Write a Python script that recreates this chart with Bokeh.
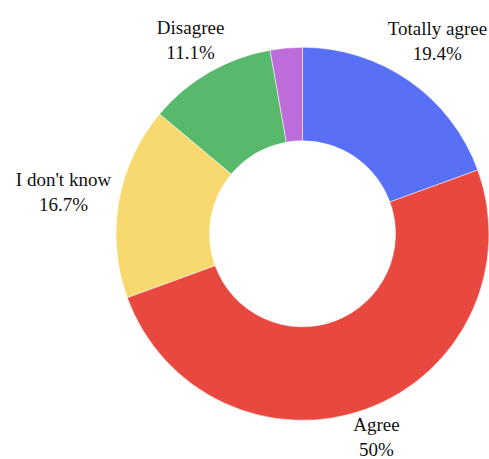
import math
from bokeh.plotting import figure
from bokeh.models import Range1d, ColumnDataSource
from bokeh.core.properties import value
from bokeh.embed import file_html
from bokeh.resources import INLINE

# ---- data ----
categories = ["Totally agree", "Agree", "I don't know", "Disagree", "Strongly disagree"]
counts = [7, 18, 6, 4, 1]
colors = ["#5770F5", "#E9483F", "#F8D96F", "#58B96C", "#BD6DDA"]

total = sum(counts)
shares = [c / total for c in counts]

# ---- layout (pixel-like data units, centre of donut at 0,0) ----
W, H = 489, 459
cx_screen, cy_screen = 302, 233.3   # donut centre inside the figure frame
R_OUT, R_IN = 186.5, 93.0
FS = 19
PAD = 6.5

p = figure(width=W, height=H, output_backend="svg", toolbar_location=None,
           x_range=Range1d(-cx_screen, W - cx_screen),
           y_range=Range1d(-(H - cy_screen), cy_screen),
           min_border=0)
p.axis.visible = False
p.grid.visible = False
p.outline_line_color = None
p.background_fill_color = "white"

starts, ends, mids = [], [], []
cum = 0.0
for s in shares:
    starts.append(math.pi / 2 - 2 * math.pi * cum)
    mids.append(2 * math.pi * (cum + s / 2))
    cum += s
    ends.append(math.pi / 2 - 2 * math.pi * cum)

src = ColumnDataSource(dict(cat=categories, start=starts, end=ends, color=colors))
p.annular_wedge(x=0, y=0, inner_radius=R_IN, outer_radius=R_OUT,
                start_angle="start", end_angle="end", direction="clock",
                fill_color="color", line_color="white", line_width=0.5, source=src)

# approximate Times-like glyph widths (per 1000 em)
CW = {" ": 250, "'": 180, "%": 833, ".": 250, "A": 722, "D": 722, "I": 333, "T": 611,
      "S": 556, "a": 444, "d": 500, "e": 444, "g": 500, "i": 278, "k": 500, "l": 278,
      "n": 500, "o": 500, "r": 333, "s": 389, "t": 278, "w": 722, "y": 500}


def text_w(t):
    return sum(CW.get(ch, 500) for ch in t) * FS / 1000.0


def pct(s):
    v = round(s * 100, 1)
    return f"{int(v)}%" if v == int(v) else f"{v}%"


lx, ly, lt = [], [], []
for cat, s, m in zip(categories, shares, mids):
    if s < 0.05:
        continue  # too small, label hidden as in the original
    txt = f"{cat}\n{pct(s)}"
    w = max(text_w(line) for line in txt.split("\n"))
    h = 2 * FS * 0.85
    ux, uy = math.sin(m), math.cos(m)
    d = R_OUT + PAD + abs(ux) * w / 2 + abs(uy) * h / 2
    lx.append(ux * d)
    ly.append(uy * d)
    lt.append(txt)

p.text(x=lx, y=ly, text=lt, text_align="center", text_baseline="middle",
       text_font=value("Liberation Serif"), text_font_size=f"{FS}px",
       text_color="#111111", text_line_height=1.2)

open("out.html", "w").write(file_html(p, INLINE))
